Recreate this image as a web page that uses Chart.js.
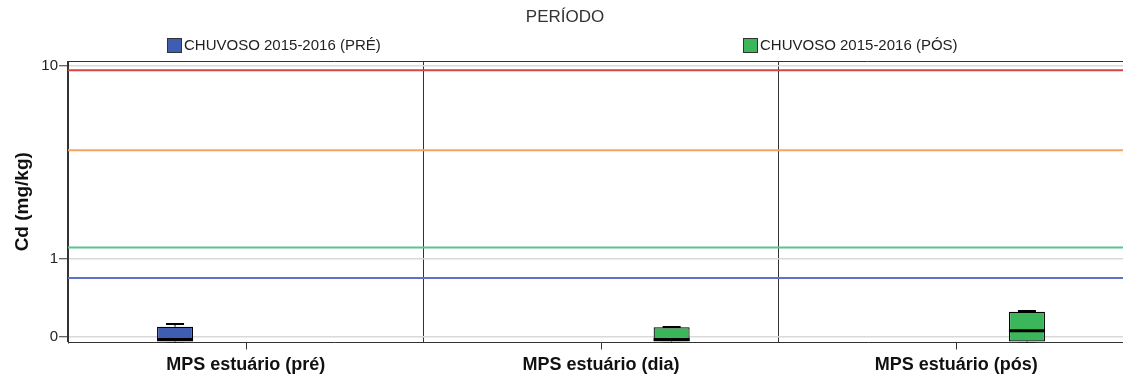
<!DOCTYPE html>
<html>
<head>
<meta charset="utf-8">
<title>Cd (mg/kg) por período</title>
<script src="https://cdn.jsdelivr.net/npm/chart.js@4.4.1/dist/chart.umd.min.js"></script>
<style>
  html, body { margin: 0; padding: 0; background: #fff; overflow: hidden; }
  #wrap { width: 1123px; height: 383px; overflow: hidden; }
  canvas { display: block; }
</style>
</head>
<body>
<div id="wrap"><canvas id="chart" width="1140" height="383"></canvas></div>
<script>
// Categories on the x axis
const categories = ['MPS estuário (pré)', 'MPS estuário (dia)', 'MPS estuário (pós)'];

// Series names
const seriesLabels = ['CHUVOSO 2015-2016 (PRÉ)', 'CHUVOSO 2015-2016 (PÓS)'];

// Box statistics, Cd (mg/kg) — PRÉ series
const preMin    = [-0.06, null, null];
const preQ1     = [-0.045, null, null];
const preMedian = [-0.027, null, null];
const preQ3     = [0.091, null, null];
const preMax    = [0.117, null, null];

// Box statistics, Cd (mg/kg) — PÓS series
const posMin    = [null, -0.06, -0.06];
const posQ1     = [null, -0.045, -0.045];
const posMedian = [null, -0.027, 0.053];
const posQ3     = [null, 0.085, 0.246];
const posMax    = [null, 0.088, 0.254];

// Sediment quality guideline values (mg/kg)
const guideValues = [9.6, 4.21, 1.2, 0.68];
const guideColors = ['#d64545', '#f4a45e', '#5fc193', '#5d72c8'];

// Y axis ticks
const yTickValues = [0, 1, 10];
const yTickLabels = ['0', '1', '10'];
const yRange = [-0.054, 10.5];

const seriesColors = ['#3f5eb2', '#3cb65a'];
const FONT = '"Liberation Sans", Arial, sans-serif';

// safe-log transform: sign(v) * log10(|v| + 1)
function tf(v) {
  if (v === null || v === undefined) return null;
  return Math.sign(v) * Math.log10(Math.abs(v) + 1);
}

function boxes(q1, q3) {
  return q1.map((v, i) => (v === null ? null : [tf(v), tf(q3[i])]));
}

const stats = [
  { min: preMin, median: preMedian, max: preMax, q3: preQ3 },
  { min: posMin, median: posMedian, max: posMax, q3: posQ3 }
];

const frame = {
  id: 'frame',
  beforeDatasetsDraw(chart) {
    const { ctx, chartArea: a, scales: { y } } = chart;
    ctx.save();
    // guideline levels
    guideValues.forEach((v, i) => {
      const py = y.getPixelForValue(tf(v));
      ctx.strokeStyle = guideColors[i];
      ctx.lineWidth = 2;
      ctx.beginPath();
      ctx.moveTo(a.left, py);
      ctx.lineTo(a.right, py);
      ctx.stroke();
    });
    // top border
    ctx.strokeStyle = '#333';
    ctx.lineWidth = 1;
    ctx.beginPath();
    ctx.moveTo(a.left, a.top + 0.5);
    ctx.lineTo(a.right, a.top + 0.5);
    ctx.stroke();
    ctx.restore();
  },
  afterDatasetsDraw(chart) {
    const { ctx, chartArea: a, scales: { y } } = chart;
    ctx.save();
    ctx.beginPath();
    ctx.rect(a.left, a.top, a.right - a.left, a.bottom - a.top);
    ctx.clip();
    ctx.strokeStyle = '#000';
    chart.data.datasets.forEach((ds, di) => {
      const meta = chart.getDatasetMeta(di);
      const s = stats[di];
      meta.data.forEach((el, i) => {
        if (ds.data[i] === null) return;
        const half = el.width / 2;
        const top = y.getPixelForValue(tf(s.q3[i]));
        const bottom = y.getPixelForValue(ds.data[i][0]);
        const pMax = y.getPixelForValue(tf(s.max[i]));
        const pMin = y.getPixelForValue(tf(s.min[i]));
        const pMed = y.getPixelForValue(tf(s.median[i]));
        // whiskers
        ctx.lineWidth = 1;
        ctx.beginPath();
        ctx.moveTo(el.x, top); ctx.lineTo(el.x, pMax);
        ctx.moveTo(el.x, bottom); ctx.lineTo(el.x, pMin);
        ctx.stroke();
        ctx.lineWidth = 2;
        ctx.beginPath();
        ctx.moveTo(el.x - half / 2, pMax); ctx.lineTo(el.x + half / 2, pMax);
        ctx.moveTo(el.x - half / 2, pMin); ctx.lineTo(el.x + half / 2, pMin);
        ctx.stroke();
        // median
        ctx.lineWidth = 3;
        ctx.beginPath();
        ctx.moveTo(el.x - half, pMed); ctx.lineTo(el.x + half, pMed);
        ctx.stroke();
      });
    });
    ctx.restore();
  },
  afterDraw(chart) {
    const { ctx, chartArea: a, scales: { x } } = chart;
    ctx.save();
    // category tick marks
    ctx.strokeStyle = '#333';
    ctx.lineWidth = 1;
    categories.forEach((c, i) => {
      const px = Math.round(x.getPixelForValue(i)) + 0.5;
      ctx.beginPath();
      ctx.moveTo(px, a.bottom);
      ctx.lineTo(px, a.bottom + 7);
      ctx.stroke();
    });
    // header title
    ctx.fillStyle = '#333';
    ctx.font = '17px ' + FONT;
    ctx.textAlign = 'center';
    ctx.textBaseline = 'middle';
    ctx.fillText('PERÍODO', 565, 17);
    // legend
    const legendX = [167, 743];
    ctx.font = '15px ' + FONT;
    ctx.textAlign = 'left';
    seriesLabels.forEach((lab, i) => {
      ctx.fillStyle = seriesColors[i];
      ctx.fillRect(legendX[i], 38, 14, 14);
      ctx.strokeStyle = '#333';
      ctx.lineWidth = 1;
      ctx.strokeRect(legendX[i] + 0.5, 38.5, 14, 14);
      ctx.fillStyle = '#222';
      ctx.fillText(lab, legendX[i] + 17, 46);
    });
    ctx.restore();
  }
};

new Chart(document.getElementById('chart'), {
  type: 'bar',
  data: {
    labels: categories,
    datasets: [
      {
        label: seriesLabels[0],
        data: boxes(preQ1, preQ3),
        backgroundColor: seriesColors[0],
        borderColor: '#000',
        borderWidth: 1.2,
        borderSkipped: false
      },
      {
        label: seriesLabels[1],
        data: boxes(posQ1, posQ3),
        backgroundColor: seriesColors[1],
        borderColor: '#000',
        borderWidth: 1.2,
        borderSkipped: false
      }
    ]
  },
  options: {
    responsive: false,
    devicePixelRatio: 1,
    animation: false,
    categoryPercentage: 0.795,
    barPercentage: 0.255,
    layout: { padding: { left: 0, right: 6, top: 61, bottom: 0 } },
    plugins: {
      legend: { display: false },
      title: { display: false },
      tooltip: { enabled: false }
    },
    scales: {
      x: {
        offset: true,
        grid: { display: true, offset: true, color: '#333', lineWidth: 1, drawTicks: false },
        border: { display: true, color: '#333', width: 1 },
        ticks: { color: '#111', padding: 12, font: { family: FONT, size: 18, weight: 'bold' }, maxRotation: 0 },
        afterFit(scale) { scale.height = 40.5; }
      },
      y: {
        min: tf(yRange[0]),
        max: tf(yRange[1]),
        afterBuildTicks(scale) {
          scale.ticks = yTickValues.map(v => ({ value: tf(v) }));
        },
        afterFit(scale) { scale.width = 68; },
        grid: { color: '#d9d9d9', lineWidth: 1.5, tickColor: '#333', tickLength: 9, tickWidth: 1 },
        border: { display: true, color: '#333', width: 1 },
        ticks: {
          color: '#222',
          padding: 1,
          font: { family: FONT, size: 15 },
          callback: (val, idx) => yTickLabels[idx]
        },
        title: {
          display: true,
          text: 'Cd (mg/kg)',
          color: '#111',
          font: { family: FONT, size: 19, weight: 'bold' },
          padding: { top: 11, bottom: 0 }
        }
      }
    }
  },
  plugins: [frame]
});
</script>
</body>
</html>
